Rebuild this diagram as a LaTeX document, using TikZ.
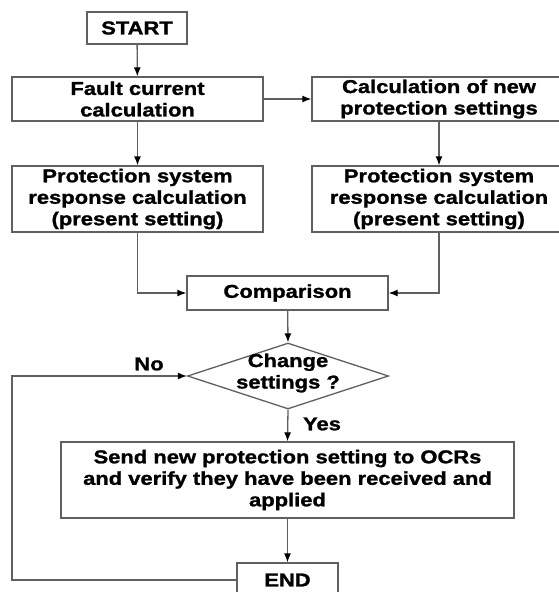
\documentclass[tikz,border=0pt]{standalone}
\usepackage{fontspec}
\newfontfamily\dfont{Liberation Sans}[FakeStretch=1.18, BoldFeatures={FakeBold=1.3}]
\usetikzlibrary{arrows.meta,shapes.geometric}
\definecolor{lncol}{HTML}{606060}
\begin{document}
\begin{tikzpicture}[x=1pt,y=-1pt,
  every node/.style={font=\dfont\bfseries\fontsize{18.6}{21.5}\selectfont, text=black},
  box/.style={draw=lncol, line width=1.3pt, rectangle, inner sep=0pt, align=center},
  dec/.style={draw=lncol, line width=1.3pt, diamond, inner sep=0pt, minimum width=201pt, minimum height=66pt},
  conn/.style={draw=lncol, line width=1.3pt, -{Latex[length=9pt,width=7pt,color=black]}},
  lbl/.style={inner sep=0pt}
]
\useasboundingbox (0,0) rectangle (559,592);
\clip (0,0) rectangle (559,592);
\fill[white] (0,0) rectangle (559,592);

\node[box, minimum width=100pt, minimum height=32pt] (start) at (137,28) {START};
\node[box, minimum width=251pt, minimum height=44pt] (fault) at (137.5,99) {Fault current\\calculation};
\node[box, minimum width=254pt, minimum height=44pt] (calc) at (439,99) {Calculation of new\\protection settings};
\node[box, minimum width=251pt, minimum height=66pt] (protl) at (137.5,199) {Protection system\\response calculation\\(present setting)};
\node[box, minimum width=254pt, minimum height=66pt] (protr) at (439,199) {Protection system\\response calculation\\(present setting)};
\node[box, minimum width=201pt, minimum height=34pt] (comp) at (287.5,293) {Comparison};
\node[dec] (chg) at (288,376) {};
\node[lbl, align=center] (chgtxt) at (288,373) {Change\\settings ?};
\node[box, minimum width=453pt, minimum height=76pt] (send) at (287.5,480) {Send new protection setting to OCRs\\and verify they have been received and\\applied};
\node[box, minimum width=101pt, minimum height=34pt] (end) at (287.5,580) {END};
\coordinate (lb) at (12,580);
\coordinate (lt) at (12,376);
\node[lbl] (no) at (149,364) {No};
\node[lbl] (yes) at (322,424) {Yes};

\draw[conn] (start) -- (fault);
\draw[conn] (fault) -- (protl);
\draw[conn] (fault) -- (calc);
\draw[conn] (calc) -- (protr);
\draw[conn] (protl.south) |- (comp.west);
\draw[conn] (protr.south) |- (comp.east);
\draw[conn] (comp) -- (chg.north);
\draw[conn] (chg.south) -- (send.north);
\draw[conn] (send) -- (end);
\draw[conn] (end.west) -- (lb) -- (lt) -- (chg.west);
\end{tikzpicture}
\end{document}
